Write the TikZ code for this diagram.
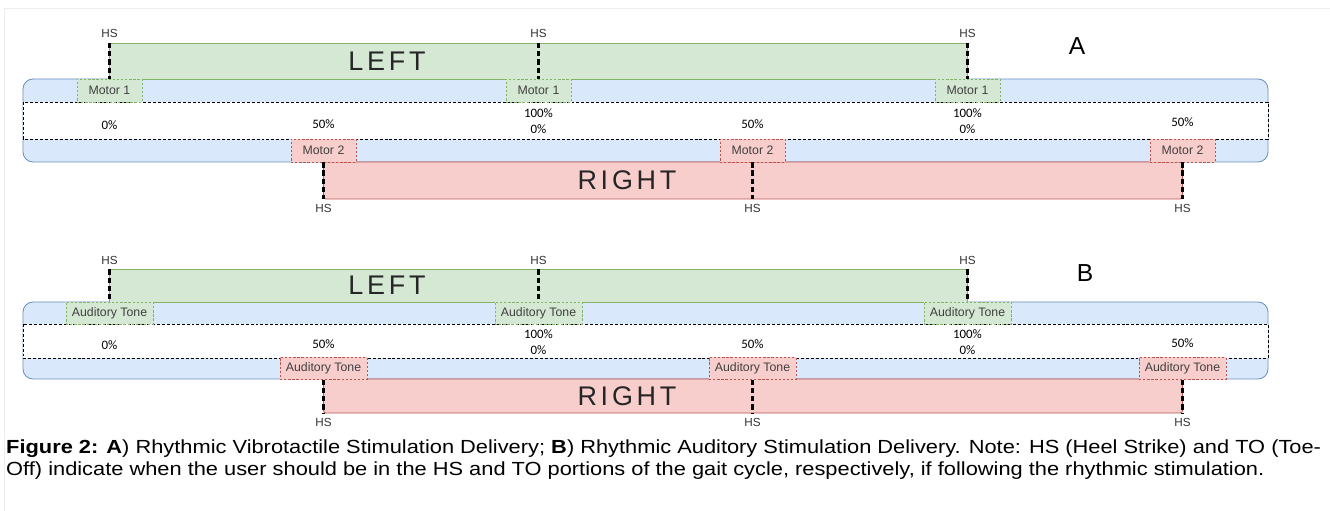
\documentclass[tikz,border=0pt]{standalone}
\usepackage{fontspec}
\setmainfont{Liberation Sans}
\newfontfamily\pctfont{Carlito}
\newfontfamily\sidefont[LetterSpace=14]{Liberation Sans}
\newfontfamily\captionfont[FakeStretch=1.15]{Liberation Sans}

\definecolor{leftfill}{HTML}{D5E8D4}
\definecolor{leftline}{HTML}{82B366}
\definecolor{rightfill}{HTML}{F8CECC}
\definecolor{rightline}{HTML}{B85450}
\definecolor{barfill}{HTML}{DAE8FC}
\definecolor{barline}{HTML}{6C8EBF}

\begin{document}
\begin{tikzpicture}[x=0.03cm, y=-0.03cm,
    hs/.style={font=\fontsize{10}{12}\selectfont, text=black!80, inner xsep=0pt, inner ysep=0.15cm},
    pct/.style={font=\pctfont\fontsize{11}{13.5}\selectfont, align=center, inner sep=0pt},
    side/.style={font=\sidefont\fontsize{23}{28}\selectfont, text=black!85, inner sep=0pt},
    panel/.style={font=\fontsize{21}{24}\selectfont, inner sep=0pt},
    cue/.style={draw, dashed, dash pattern=on 2pt off 1.5pt, inner sep=0pt, text=black!75,
        font=\fontsize{10.5}{12}\selectfont},
    lcue/.style={cue, fill=leftfill, draw=leftline},
    rcue/.style={cue, fill=rightfill, draw=rightline},
    hsline/.style={line width=2pt, dash pattern=on 4.5pt off 2.5pt},
    gap/.style={fill=white, draw=black, line width=0.6pt, dash pattern=on 2.5pt off 1.7pt}]

    \useasboundingbox (0,0) rectangle (1330,511);
    \draw[black!7, line width=0.6pt] (4,511) -- (4,8) -- (1330,8);

    % A: vibrotactile
    \draw[fill=barfill, draw=barline, line width=0.7pt, rounded corners=0.3cm] (23,79) rectangle (1268,162);
    \draw[gap] (23,102) rectangle (1268,139);
    \draw[fill=leftfill, draw=leftline, line width=0.7pt] (109.5,43) rectangle (967.5,79);
    \draw[fill=rightfill, draw=rightline, line width=0.7pt, rounded corners=2pt] (323.5,162) rectangle (1182.5,199);

    \node[side] (leftA) at (387,61) {LEFT};
    \node[side] (rightA) at (627,180) {RIGHT};
    \node[panel] (labA) at (1077,46) {A};

    \node[lcue, minimum width=1.95cm, minimum height=0.69cm] (cueA1) at (109.5,90.5) {Motor 1};
    \node[lcue, minimum width=1.95cm, minimum height=0.69cm] (cueA2) at (538.5,90.5) {Motor 1};
    \node[lcue, minimum width=1.95cm, minimum height=0.69cm] (cueA3) at (967.5,90.5) {Motor 1};
    \node[rcue, minimum width=1.95cm, minimum height=0.69cm] (cueA4) at (323.5,150.5) {Motor 2};
    \node[rcue, minimum width=1.95cm, minimum height=0.69cm] (cueA5) at (752.5,150.5) {Motor 2};
    \node[rcue, minimum width=1.95cm, minimum height=0.69cm] (cueA6) at (1182.5,150.5) {Motor 2};

    \node[hs, anchor=south] (hsA1) at (109.5,43) {HS};
    \node[hs, anchor=south] (hsA2) at (538.5,43) {HS};
    \node[hs, anchor=south] (hsA3) at (967.5,43) {HS};
    \node[hs, anchor=north] (hsA4) at (323.5,199) {HS};
    \node[hs, anchor=north] (hsA5) at (752.5,199) {HS};
    \node[hs, anchor=north] (hsA6) at (1182.5,199) {HS};

    \draw[hsline] (hsA1.south) -- (cueA1.north);
    \draw[hsline] (hsA2.south) -- (cueA2.north);
    \draw[hsline] (hsA3.south) -- (cueA3.north);
    \draw[hsline] (cueA4.south) -- (hsA4.north);
    \draw[hsline] (cueA5.south) -- (hsA5.north);
    \draw[hsline] (cueA6.south) -- (hsA6.north);

    \node[pct] (pctA1) at (109.5,125) {0\%};
    \node[pct] (pctA2) at (323.5,124) {50\%};
    \node[pct] (pctA3) at (538.5,121) {100\%\\0\%};
    \node[pct] (pctA4) at (752.5,124) {50\%};
    \node[pct] (pctA5) at (967.5,121) {100\%\\0\%};
    \node[pct] (pctA6) at (1182.5,122) {50\%};

    % B: auditory
    \draw[fill=barfill, draw=barline, line width=0.7pt, rounded corners=0.3cm] (23,302) rectangle (1268,379);
    \draw[gap] (23,324) rectangle (1268,358);
    \draw[fill=leftfill, draw=leftline, line width=0.7pt] (109.5,269.5) rectangle (967.5,302);
    \draw[fill=rightfill, draw=rightline, line width=0.7pt, rounded corners=2pt] (323.5,379) rectangle (1182.5,413);

    \node[side] (leftB) at (387,285) {LEFT};
    \node[side] (rightB) at (627,396) {RIGHT};
    \node[panel] (labB) at (1085,273) {B};

    \node[lcue, minimum width=2.61cm, minimum height=0.66cm] (cueB1) at (109.5,313) {Auditory Tone};
    \node[lcue, minimum width=2.61cm, minimum height=0.66cm] (cueB2) at (538.5,313) {Auditory Tone};
    \node[lcue, minimum width=2.61cm, minimum height=0.66cm] (cueB3) at (967.5,313) {Auditory Tone};
    \node[rcue, minimum width=2.61cm, minimum height=0.66cm] (cueB4) at (323.5,368.5) {Auditory Tone};
    \node[rcue, minimum width=2.61cm, minimum height=0.66cm] (cueB5) at (752.5,368.5) {Auditory Tone};
    \node[rcue, minimum width=2.61cm, minimum height=0.66cm] (cueB6) at (1182.5,368.5) {Auditory Tone};

    \node[hs, anchor=south] (hsB1) at (109.5,269.5) {HS};
    \node[hs, anchor=south] (hsB2) at (538.5,269.5) {HS};
    \node[hs, anchor=south] (hsB3) at (967.5,269.5) {HS};
    \node[hs, anchor=north] (hsB4) at (323.5,413) {HS};
    \node[hs, anchor=north] (hsB5) at (752.5,413) {HS};
    \node[hs, anchor=north] (hsB6) at (1182.5,413) {HS};

    \draw[hsline] (hsB1.south) -- (cueB1.north);
    \draw[hsline] (hsB2.south) -- (cueB2.north);
    \draw[hsline] (hsB3.south) -- (cueB3.north);
    \draw[hsline] (cueB4.south) -- (hsB4.north);
    \draw[hsline] (cueB5.south) -- (hsB5.north);
    \draw[hsline] (cueB6.south) -- (hsB6.north);

    \node[pct] (pctB1) at (109.5,345) {0\%};
    \node[pct] (pctB2) at (323.5,344) {50\%};
    \node[pct] (pctB3) at (538.5,342.5) {100\%\\0\%};
    \node[pct] (pctB4) at (752.5,344) {50\%};
    \node[pct] (pctB5) at (967.5,342.5) {100\%\\0\%};
    \node[pct] (pctB6) at (1182.5,343) {50\%};

    % caption
    \node[anchor=north west, align=left, inner sep=0pt, font=\captionfont\fontsize{16.2}{18.7}\selectfont] (caption) at (6,440)
        {\textbf{Figure 2: A}) Rhythmic Vibrotactile Stimulation Delivery; \textbf{B}) Rhythmic Auditory Stimulation Delivery. Note: HS (Heel Strike) and TO (Toe-\\
        Off) indicate when the user should be in the HS and TO portions of the gait cycle, respectively, if following the rhythmic stimulation.};
\end{tikzpicture}
\end{document}
